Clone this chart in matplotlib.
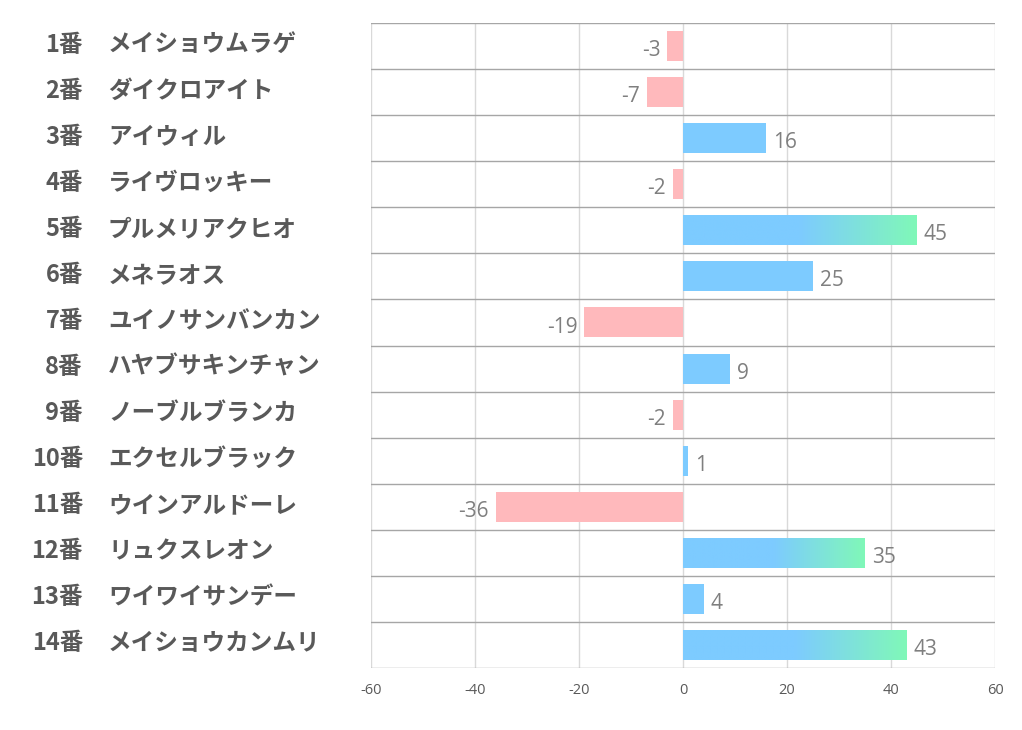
import numpy as np
import matplotlib.pyplot as plt
from matplotlib.colors import LinearSegmentedColormap

plt.rcParams['font.family'] = ['Noto Sans CJK JP', 'DejaVu Sans']

nums = ['1番', '2番', '3番', '4番', '5番', '6番', '7番', '8番', '9番', '10番', '11番', '12番', '13番', '14番']
names = ['メイショウムラゲ', 'ダイクロアイト', 'アイウィル', 'ライヴロッキー', 'プルメリアクヒオ',
         'メネラオス', 'ユイノサンバンカン', 'ハヤブサキンチャン', 'ノーブルブランカ', 'エクセルブラック',
         'ウインアルドーレ', 'リュクスレオン', 'ワイワイサンデー', 'メイショウカンムリ']
values = [-3, -7, 16, -2, 45, 25, -19, 9, -2, 1, -36, 35, 4, 43]

BLUE = '#7dcbff'
GREEN = '#80f8b8'
PINK = '#ffb9bc'

fig = plt.figure(figsize=(10.22, 7.3), dpi=100)
ax = fig.add_axes([371/1022, 1-668/730, 624/1022, 645/730])

n = len(values)
ypos = np.arange(n)
cmap = LinearSegmentedColormap.from_list('bg', [BLUE, BLUE, GREEN])

for y, v in zip(ypos, values):
    col = BLUE if v >= 0 else PINK
    bar = ax.barh(y, v, height=0.65, color=col, zorder=2)[0]
    if v >= 30:
        grad = np.linspace(0, 1, 256).reshape(1, -1)
        im = ax.imshow(grad, cmap=cmap, extent=[0, v, y + 0.325, y - 0.325],
                       aspect='auto', zorder=3, interpolation='bilinear')
        im.set_clip_path(bar)
    if v >= 0:
        ax.text(v + 1.3, y + 0.1, str(v), va='center', ha='left', fontsize=15,
                color='#7f7f7f', family=['Open Sans', 'DejaVu Sans'], zorder=4)
    else:
        ax.text(v - 1.3, y + 0.1, str(v), va='center', ha='right', fontsize=15,
                color='#7f7f7f', family=['Open Sans', 'DejaVu Sans'], zorder=4)

ax.set_xlim(-60, 60)
ax.set_ylim(n - 0.5, -0.5)
ax.set_xticks(range(-60, 61, 20))
ax.set_xticklabels([str(t) for t in range(-60, 61, 20)], fontsize=10.5, color='#595959',
                   family=['Open Sans', 'DejaVu Sans'])
ax.tick_params(axis='x', length=0, pad=11)
ax.set_yticks([])
for x in range(-60, 61, 20):
    ax.axvline(x, color='#d9d9d9', lw=1, zorder=1)
for b in np.arange(-0.5, n, 1):
    ax.axhline(b, color='#a6a6a6', lw=1, zorder=1)
for s in ax.spines.values():
    s.set_visible(False)

for y, (nm, name) in enumerate(zip(nums, names)):
    yy = 1 - (23 + 46 * y + 22) / 730
    fig.text(83/1022, yy, nm, ha='right', va='center', fontsize=17, fontweight='bold', color='#595959')
    fig.text(108/1022, yy, name, ha='left', va='center', fontsize=17, fontweight='bold', color='#595959')

fig.savefig('out.png', dpi=100)
